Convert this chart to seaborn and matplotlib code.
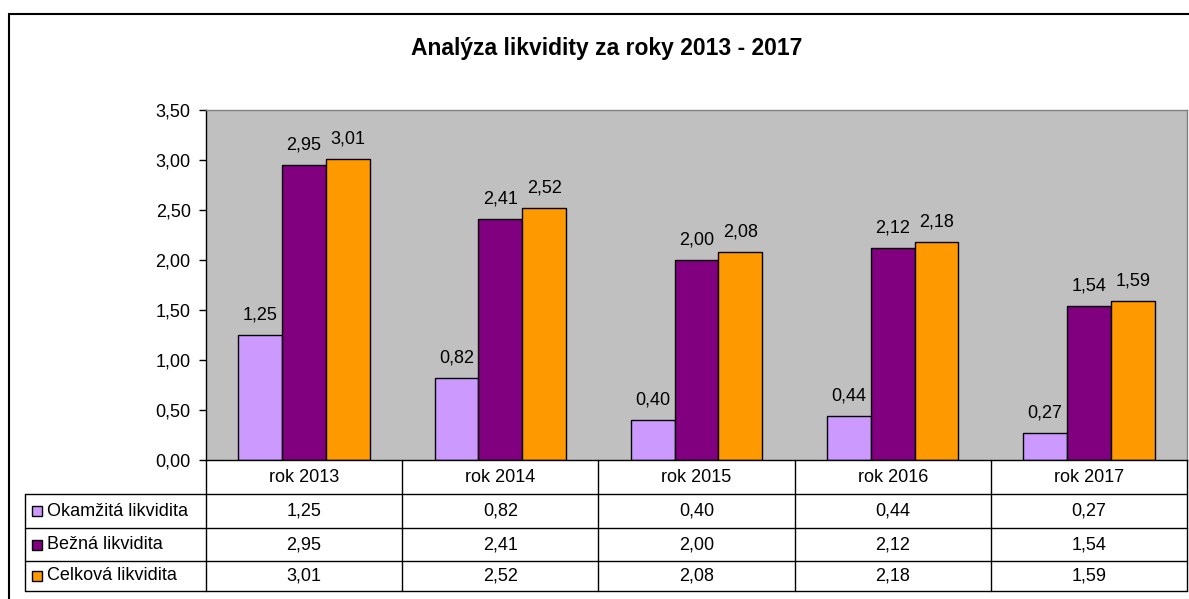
import seaborn as sns
import matplotlib.pyplot as plt
import pandas as pd
from matplotlib.patches import Rectangle
from matplotlib.ticker import FuncFormatter

# data
roky = ["rok 2013", "rok 2014", "rok 2015", "rok 2016", "rok 2017"]
okamzita = [1.25, 0.82, 0.40, 0.44, 0.27]
bezna = [2.95, 2.41, 2.00, 2.12, 1.54]
celkova = [3.01, 2.52, 2.08, 2.18, 1.59]
serie = ["Okamžitá likvidita", "Bežná likvidita", "Celková likvidita"]
farby = ["#CC99FF", "#800080", "#FF9900"]

hodnoty = [okamzita, bezna, celkova]
df = pd.DataFrame({
    "rok": roky * 3,
    "typ": [s for s in serie for _ in roky],
    "hodnota": okamzita + bezna + celkova,
})

sns.set_style("white")
plt.rcParams["font.family"] = ["Liberation Sans", "DejaVu Sans"]
plt.rcParams["text.color"] = "black"
plt.rcParams["ytick.color"] = "black"
FS = 13


def ciarka(v):
    return f"{v:.2f}".replace(".", ",")


W, H = 1189, 599
fig = plt.figure(figsize=(W / 100, H / 100), dpi=100)

# vonkajsi ramik
fig.patches.append(Rectangle((9 / W, -0.1), 1.2, 1 - 14 / H + 0.1, transform=fig.transFigure,
                             fill=False, ec="black", lw=1.5))

ax = fig.add_axes([206 / W, 1 - 460 / H, 981 / W, 350 / H])
ax.set_facecolor("#C0C0C0")
sns.barplot(data=df, x="rok", y="hodnota", hue="typ", palette=farby, width=0.67, saturation=1,
            edgecolor="black", linewidth=1, legend=False, ax=ax)
for cont in ax.containers:
    ax.bar_label(cont, labels=[ciarka(b.get_height()) for b in cont], padding=8, fontsize=FS)

ax.set_xlim(-0.5, 4.5)
ax.set_ylim(0, 3.5)
ax.set_yticks([i * 0.5 for i in range(8)])
ax.yaxis.set_major_formatter(FuncFormatter(lambda v, p: ciarka(v)))
ax.tick_params(axis="y", length=5, width=1, color="black", labelsize=FS, left=True, pad=6)
ax.tick_params(axis="x", length=0, labelbottom=False)
ax.set_xlabel("")
ax.set_ylabel("")
for s in ["top", "right"]:
    ax.spines[s].set_color("#808080")
for s in ["left", "bottom"]:
    ax.spines[s].set_color("black")
for s in ax.spines.values():
    s.set_linewidth(1)

fig.text(607 / W, 1 - 48 / H, "Analýza likvidity za roky 2013 - 2017", ha="center", va="center",
         fontsize=16.5, fontweight="bold")

# tabulka s udajmi
x_left = -0.5 - (206 - 25) / 196.2
tax = fig.add_axes([25 / W, 1 - 591 / H, 1163 / W, 131 / H])
tax.set_xlim(x_left, 4.5 + 1 / 196.2)
tax.set_ylim(591, 460)
tax.axis("off")
riadky = [460, 494, 528, 561, 591]
kw = dict(color="black", lw=1, clip_on=False)
for y in riadky[1:]:
    tax.plot([x_left, 4.5], [y, y], **kw)
tax.plot([x_left, x_left], [riadky[1], riadky[-1]], **kw)
for i in range(len(roky) + 1):
    tax.plot([i - 0.5, i - 0.5], [riadky[0], riadky[-1]], **kw)

for i, r in enumerate(roky):
    tax.text(i, (riadky[0] + riadky[1]) / 2, r, ha="center", va="center", fontsize=FS)
for j, (nazov, vals, c) in enumerate(zip(serie, hodnoty, farby)):
    yc = (riadky[j + 1] + riadky[j + 2]) / 2
    tax.add_patch(Rectangle((x_left + 7 / 196.2, yc - 5), 10 / 196.2, 10, fc=c, ec="black",
                            lw=1, clip_on=False))
    tax.text(x_left + 22 / 196.2, yc, nazov, ha="left", va="center", fontsize=FS)
    for i, v in enumerate(vals):
        tax.text(i, yc, ciarka(v), ha="center", va="center", fontsize=FS)

fig.savefig("out.png", dpi=100)
